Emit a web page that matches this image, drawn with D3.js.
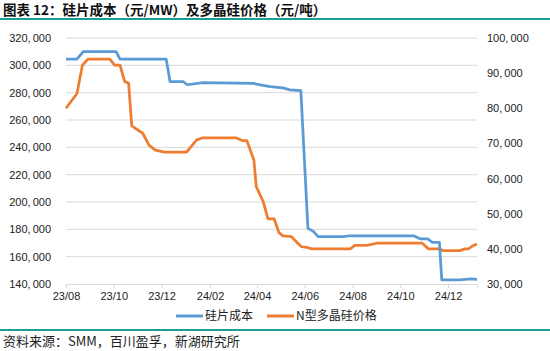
<!DOCTYPE html>
<html>
<head>
<meta charset="utf-8">
<script src="https://cdn.jsdelivr.net/npm/d3@7"></script>
<style>
  body { margin: 0; background: #fff; }
  svg { display: block; }
</style>
</head>
<body>
<div id="chart"></div>
<script>
// wafer cost, yuan/MW (left axis)
var waferDates = ["2023-08-01", "2023-08-15", "2023-08-23", "2023-10-04", "2023-10-09", "2023-12-07",
    "2023-12-12", "2023-12-29", "2024-01-03", "2024-01-23", "2024-03-27", "2024-04-07", "2024-04-18",
    "2024-05-04", "2024-05-13", "2024-05-27", "2024-06-05", "2024-06-12", "2024-06-18", "2024-07-20",
    "2024-07-29", "2024-10-18", "2024-10-27", "2024-11-05", "2024-11-11", "2024-11-20", "2024-11-23",
    "2024-12-16", "2024-12-30", "2025-01-07"];
var waferCost = [304500, 304500, 310000, 310000, 304500, 304500,
    288000, 288000, 285800, 287300, 286800, 285500, 284400,
    283500, 282000, 281500, 180700, 178500, 174600, 174600,
    175300, 175300, 173000, 173000, 170500, 170500, 143000,
    143000, 143800, 143300];

// N-type polysilicon price, yuan/ton (right axis)
var polyDates = ["2023-08-01", "2023-08-15", "2023-08-22", "2023-08-29", "2023-09-26", "2023-10-02",
    "2023-10-09", "2023-10-15", "2023-10-20", "2023-10-24", "2023-11-07", "2023-11-15", "2023-11-23",
    "2023-12-05", "2024-01-02", "2024-01-15", "2024-01-23", "2024-03-05", "2024-03-13", "2024-03-19",
    "2024-03-28", "2024-03-31", "2024-04-09", "2024-04-15", "2024-04-23", "2024-04-29", "2024-05-04",
    "2024-05-15", "2024-05-22", "2024-05-28", "2024-06-04", "2024-06-10", "2024-07-29", "2024-08-04",
    "2024-08-19", "2024-09-01", "2024-10-29", "2024-11-06", "2024-11-19", "2024-11-25", "2024-12-16",
    "2024-12-23", "2024-12-27", "2025-01-02", "2025-01-07"];
var polyPrice = [80000, 84200, 92300, 94000, 94000, 92300,
    92300, 87600, 87100, 75000, 72900, 69500, 68100,
    67500, 67500, 71000, 71600, 71600, 70800, 70800,
    65300, 57700, 53400, 48500, 48500, 44600, 43700,
    43500, 41800, 40600, 40400, 40000, 40000, 41000,
    41000, 41600, 41600, 40000, 40000, 39500, 39500,
    40000, 40000, 40900, 41400];

var leftTicks = [140000, 160000, 180000, 200000, 220000, 240000, 260000, 280000, 300000, 320000];
var rightTicks = [30000, 40000, 50000, 60000, 70000, 80000, 90000, 100000];
var xTicks = ["2023-08-01", "2023-10-01", "2023-12-01", "2024-02-01", "2024-04-01",
    "2024-06-01", "2024-08-01", "2024-10-01", "2024-12-01"];

var seriesNames = ["硅片成本", "N型多晶硅价格"];
var colors = ["#5b9bd5", "#ed7d31"];

var w = 550, h = 351;
var plotL = 66, plotR = 477, plotT = 38, plotB = 284;
var parse = d3.timeParse("%Y-%m-%d");

var svg = d3.select("#chart").append("svg")
    .attr("width", w)
    .attr("height", h)
    .style("font-family", "'Noto Sans CJK SC', sans-serif");

// title and rules
svg.append("text")
    .attr("x", 3).attr("y", 15)
    .attr("font-size", 13.5).attr("font-weight", "bold")
    .attr("fill", "#111")
    .text("图表 12：硅片成本（元/MW）及多晶硅价格（元/吨）");
svg.append("rect").attr("x", 0).attr("y", 18).attr("width", w).attr("height", 2).attr("fill", "#1a9e9a");
svg.append("rect").attr("x", 0).attr("y", 329).attr("width", w).attr("height", 2).attr("fill", "#1a9e9a");
svg.append("text")
    .attr("x", 3).attr("y", 346)
    .attr("font-size", 13).attr("fill", "#222")
    .text("资料来源：SMM，百川盈孚，新湖研究所");

// scales
var x = d3.scaleTime()
    .domain([parse("2023-08-01"), parse("2025-01-07")])
    .range([plotL, plotR]);
var yL = d3.scaleLinear().domain([140000, 320000]).range([plotB, plotT]);
var yR = d3.scaleLinear().domain([30000, 100000]).range([plotB, plotT]);

// gridlines
svg.append("g")
    .selectAll("line")
    .data(leftTicks.slice(1))
    .enter().append("line")
    .attr("x1", plotL).attr("x2", plotR)
    .attr("y1", function(d) { return yL(d); })
    .attr("y2", function(d) { return yL(d); })
    .attr("stroke", "#d9d9d9").attr("stroke-width", 1);

// split "320,000" so the comma gets a bit of room, like the source font
function splitLabel(sel) {
    sel.selectAll(".tick text").each(function(d) {
        var t = d3.select(this);
        var s = d3.format(",")(d);
        var i = s.indexOf(",");
        t.text(null);
        if (i < 0) { t.text(s); return; }
        t.append("tspan").text(s.slice(0, i + 1));
        t.append("tspan").attr("dx", 2).text(s.slice(i + 1));
    });
}

var axisL = svg.append("g")
    .attr("transform", "translate(" + plotL + ",0)")
    .call(d3.axisLeft(yL).tickValues(leftTicks).tickSize(0).tickPadding(15));
axisL.select(".domain").remove();
axisL.selectAll("text").attr("font-size", 11).attr("fill", "#222")
    .style("font-family", "'Liberation Sans', Arial, sans-serif");
splitLabel(axisL);

var axisR = svg.append("g")
    .attr("transform", "translate(" + plotR + ",0)")
    .call(d3.axisRight(yR).tickValues(rightTicks).tickSize(0).tickPadding(10));
axisR.select(".domain").remove();
axisR.selectAll("text").attr("font-size", 11).attr("fill", "#222")
    .style("font-family", "'Liberation Sans', Arial, sans-serif");
splitLabel(axisR);

var axisX = svg.append("g")
    .attr("transform", "translate(0," + plotB + ")")
    .call(d3.axisBottom(x)
        .tickValues(xTicks.map(parse))
        .tickFormat(d3.timeFormat("%y/%m"))
        .tickSizeOuter(0)
        .tickSize(4)
        .tickPadding(4));
axisX.select(".domain").attr("stroke", "#d9d9d9");
axisX.selectAll(".tick line").attr("stroke", "#d9d9d9");
axisX.selectAll("text").attr("font-size", 11).attr("fill", "#222")
    .style("font-family", "'Liberation Sans', Arial, sans-serif");

// lines
var waferLine = d3.line()
    .x(function(d, i) { return x(parse(waferDates[i])); })
    .y(function(d) { return yL(d); });
var polyLine = d3.line()
    .x(function(d, i) { return x(parse(polyDates[i])); })
    .y(function(d) { return yR(d); });

svg.append("path")
    .datum(polyPrice)
    .attr("d", polyLine)
    .attr("fill", "none")
    .attr("stroke", colors[1])
    .attr("stroke-width", 2.75)
    .attr("stroke-linejoin", "round");

svg.append("path")
    .datum(waferCost)
    .attr("d", waferLine)
    .attr("fill", "none")
    .attr("stroke", colors[0])
    .attr("stroke-width", 2.75)
    .attr("stroke-linejoin", "round");

// legend
var legendX = [176, 267];
var legend = svg.append("g");
seriesNames.forEach(function(name, i) {
    legend.append("line")
        .attr("x1", legendX[i]).attr("x2", legendX[i] + 27)
        .attr("y1", 316).attr("y2", 316)
        .attr("stroke", colors[i]).attr("stroke-width", 3);
    legend.append("text")
        .attr("x", legendX[i] + 29).attr("y", 320)
        .attr("font-size", 12).attr("fill", "#222")
        .text(name);
});
</script>
</body>
</html>
